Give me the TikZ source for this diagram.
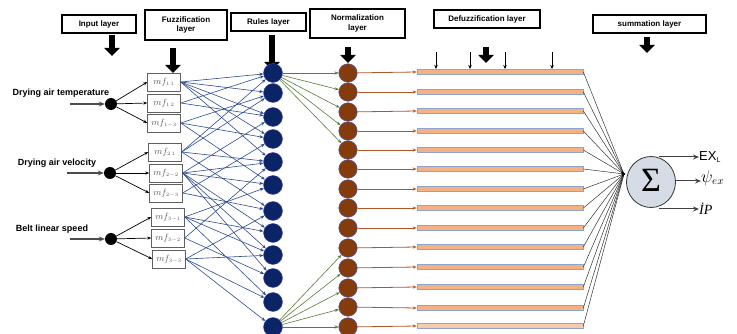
\documentclass[tikz,border=0pt]{standalone}
\usepackage{fontspec}
\setmainfont{Liberation Sans}
\newfontfamily\serifit{Liberation Serif}
\usetikzlibrary{arrows.meta,shapes.geometric,calc}
\definecolor{navyN}{HTML}{0B2466}
\definecolor{brownN}{HTML}{843C0C}
\definecolor{lineB}{HTML}{2E4B8F}
\definecolor{lineG}{HTML}{5A7A3A}
\definecolor{lineR}{HTML}{B0562A}
\definecolor{barF}{HTML}{F4B183}
\definecolor{barL}{HTML}{F8CBAD}
\definecolor{barD}{HTML}{8FA3CF}
\definecolor{sigF}{HTML}{D6DCE5}
\tikzset{
  hdr/.style={draw, line width=1.1pt, font=\bfseries\fontsize{8}{9.5}\selectfont, align=center, inner sep=0pt, minimum height=18pt},
  blockarrow/.style={line width=5.5pt, -{Triangle[width=15pt,length=8pt]}},
  thinarrow/.style={line width=0.7pt, -{Stealth[length=4pt,width=3pt]}},
  inp/.style={circle, fill=black, minimum size=12pt, inner sep=0pt},
  inlabel/.style={font=\bfseries\fontsize{9}{10}\selectfont},
  mfbox/.style={draw=gray!75!black, fill=white, minimum width=33pt, minimum height=18pt, inner sep=0pt, text=gray!70!black, font=\serifit\itshape\fontsize{9}{10}\selectfont},
  rulenode/.style={circle, fill=navyN, draw=blue!40!gray, line width=0.4pt, minimum size=19pt, inner sep=0pt},
  normnode/.style={circle, fill=brownN, draw=blue!35!gray, line width=0.5pt, minimum size=18.5pt, inner sep=0pt},
  barnode/.style={rectangle, fill=barF, draw=barD, line width=0.7pt, minimum width=166pt, minimum height=5pt, inner sep=0pt},
  blue arrow/.style={draw=lineB, line width=0.6pt, -{Stealth[length=4pt,width=3.2pt]}},
  green arrow/.style={draw=lineG, line width=0.6pt, -{Stealth[length=4pt,width=3.2pt]}},
  brown arrow/.style={draw=lineR, line width=0.8pt, -{Stealth[length=4pt,width=3.2pt]}},
  sum line/.style={draw=black!80, line width=0.5pt},
  out arrow/.style={draw=black!75, line width=1pt, -{Stealth[length=6pt,width=5pt]}},
}
\begin{document}
\begin{tikzpicture}[x=1pt,y=-1pt]
\useasboundingbox (0,0) rectangle (737,334);

% header boxes
\node[hdr, minimum width=74pt] (hIn) at (99,24) {Input layer};
\node[hdr, minimum width=82pt, minimum height=30pt] (hFz) at (186,25) {Fuzzification\\layer};
\node[hdr, minimum width=75pt] (hRu) at (268.5,22) {Rules layer};
\node[hdr, minimum width=95pt, minimum height=29pt] (hNo) at (357.5,23.5) {Normalization\\layer};
\node[hdr, minimum width=106pt] (hDf) at (487,19) {Defuzzification layer};
\node[hdr, minimum width=113pt] (hSu) at (649.5,24) {summation layer};

% block arrows under headers
\foreach \n/\x/\ya/\yb in {a/112/35/56, b/173/48/73, c/272/35/70, d/348/47/63, e/486/47/63, f/647/37/53}{
  \coordinate (ba\n) at (\x,\ya);
  \coordinate (bb\n) at (\x,\yb);
  \draw[blockarrow] (ba\n) -- (bb\n);
}
% small defuzzification arrows
\foreach \n/\x in {1/436,2/470,3/505,4/552}{
  \coordinate (sa\n) at (\x,52);
  \coordinate (sb\n) at (\x,69);
  \draw[line width=0.8pt, -{Stealth[length=4pt,width=3.5pt]}] (sa\n) -- (sb\n);
}

% inputs
\node[inp] (x1) at (111,104) {};
\node[inp] (x2) at (110,173) {};
\node[inp] (x3) at (111,239) {};
\node[inlabel] (l1) at (61,93) {Drying air temperature};
\node[inlabel] (l2) at (57,163) {Drying air velocity};
\node[inlabel] (l3) at (52,229) {Belt linear speed};
\coordinate (s1) at (70,104);
\coordinate (s2) at (67,173);
\coordinate (s3) at (70,239);
\foreach \i in {1,2,3}{
  \draw[draw=black!70, line width=1.5pt, -{Stealth[length=6pt,width=5pt]}] (s\i) -- (x\i);
}

% membership function boxes
\foreach \n/\x/\y/\lab in {
  1/164/82/{1\,1}, 2/164/103/{1\,2}, 3/164/123/{1-3},
  4/165/152/{2\,1}, 5/166/173/{2-2}, 6/166/193/{2-3},
  7/168/217/{3-1}, 8/168/238/{3-2}, 9/169/259/{3-3}}{
  \node[mfbox] (m\n) at (\x,\y) {$mf_{\scriptscriptstyle\lab}$};
}
\foreach \i/\m in {1/1,1/2,1/3,2/4,2/5,2/6,3/7,3/8,3/9}{
  \draw[thinarrow] (x\i) -- (m\m.west);
}

% rule nodes
\foreach \n/\y in {1/73,2/93,3/117,4/139,5/162,6/185,7/211,8/233,9/255,10/278,11/302,12/327}{
  \node[rulenode] (r\n) at (273,\y) {};
}
% mf -> rule connections
\foreach \m/\r in {1/1,1/2,1/3,1/4,1/5,2/1,2/3,3/2,3/4,3/6,
  4/1,4/2,4/5,4/7,5/3,5/5,5/6,5/8,5/9,5/10,6/4,6/7,
  7/6,7/8,7/9,7/11,8/5,8/10,9/7,9/9,9/11,9/12}{
  \draw[blue arrow] (m\m.east) -- (r\r);
}

% normalization nodes
\foreach \n/\y in {1/73,2/92,3/112,4/131,5/150,6/169,7/189,8/208,9/228,10/248,11/268,12/288,13/307,14/327}{
  \node[normnode] (n\n) at (348,\y) {};
}
\foreach \k in {1,...,5}{ \draw[green arrow] (r1) -- (n\k); }
\foreach \k in {10,...,14}{ \draw[green arrow] (r12) -- (n\k); }

% defuzzification bars
\foreach \n/\y in {1/72,2/92,3/111,4/131,5/150,6/169,7/189,8/208,9/228,10/247,11/267,12/287,13/308,14/326}{
  \node[barnode] (b\n) at (500,\y) {};
}
\node[barnode, fill=barL] at (b14) {};
\foreach \k in {1,...,14}{ \draw[brown arrow] (n\k) -- (b\k.west); }

% summation
\coordinate (jn) at (624,174);
\foreach \k in {1,...,14}{ \draw[sum line] (b\k.east) -- (jn); }
\fill[black] (jn) ++(-2.5,-3) -- ++(4,3) -- ++(-4,3) -- cycle;
\node[ellipse, draw=black!80, fill=sigF, line width=0.8pt, minimum width=49pt, minimum height=51pt, inner sep=0pt] (sig) at (651,182) {};
\node[font=\serifit\fontsize{34}{34}\selectfont] (sigma) at (651,180) {Σ};

% outputs
\node[anchor=west, font=\fontsize{13}{14}\selectfont, inner sep=0pt] (o1) at (699,157) {EX\textsubscript{\fontsize{7}{7}\selectfont L}};
\node[anchor=west, inner sep=0pt] (o2) at (701,178) {\fontsize{16}{17}\selectfont$\psi_{ex}$};
\node[anchor=west, inner sep=0pt, font=\serifit\itshape\fontsize{14}{15}\selectfont] (o3) at (699,209) {İP};
\coordinate (e1) at (659,157);
\coordinate (e2) at (676,181);
\coordinate (e3) at (659,209);
\draw[out arrow] (e1) -- (o1.west);
\draw[out arrow] (e2) -- (e2 -| o2.west);
\draw[out arrow] (e3) -- (e3 -| o3.west);
\end{tikzpicture}
\end{document}
